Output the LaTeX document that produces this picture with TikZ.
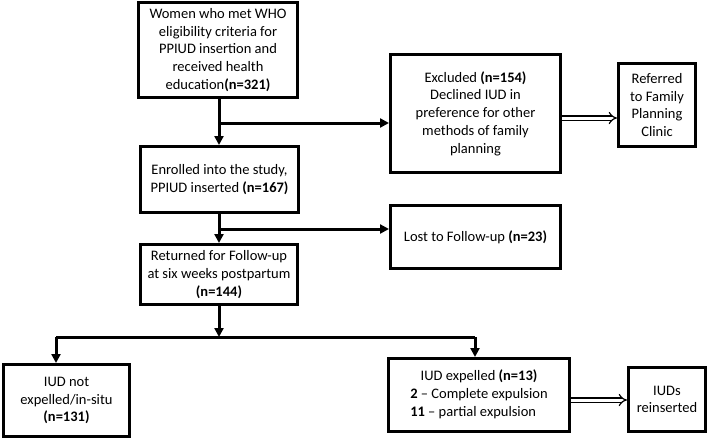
\documentclass[tikz,border=0pt]{standalone}
\usepackage{fontspec}
\setmainfont{Carlito}
\usetikzlibrary{arrows.meta}
\begin{document}
\begin{tikzpicture}[x=1pt,y=-1pt,
  box/.style={draw, line width=3pt, align=center, inner sep=2pt,
    font=\fontsize{14.5}{17.7}\selectfont},
  arr/.style={line width=3pt, -{Triangle[length=9pt,width=9pt]}},
  dbl/.style={double, double distance=3pt, line width=1.2pt, -{Implies[length=5pt]}}]
\useasboundingbox (0,0) rectangle (709,440);
\node[box, minimum width=159pt, minimum height=95pt] (b1) at (218,50)
  {Women who met WHO\\eligibility criteria for\\PPIUD insertion and\\received health\\education\textbf{(n=321)}};
\node[box, minimum width=158pt, minimum height=66pt] (b2) at (219.5,179.5)
  {Enrolled into the study,\\PPIUD inserted \textbf{(n=167)}};
\node[box, minimum width=157pt, minimum height=60pt] (b3) at (219,274.5)
  {Returned for Follow-up\\at six weeks postpartum\\\textbf{(n=144)}};
\node[box, minimum width=126pt, minimum height=72pt] (ns) at (66.5,400.5)
  {IUD not\\expelled/in-situ\\\textbf{(n=131)}};
\node[box, minimum width=170pt, minimum height=118pt] (ex) at (475.5,113.5)
  {Excluded \textbf{(n=154)}\\Declined IUD in\\preference for other\\methods of family\\planning};
\node[box, minimum width=77pt, minimum height=83pt] (rf) at (657,105)
  {Referred\\to Family\\Planning\\Clinic};
\node[box, minimum width=170pt, minimum height=63pt] (lo) at (475.5,237)
  {Lost to Follow-up \textbf{(n=23)}};
\node[box, minimum width=181pt, minimum height=73pt] (ep) at (479,395)
  {\begin{tabular}{@{}l@{}}\multicolumn{1}{@{}c@{}}{IUD expelled \textbf{(n=13)}}\\\textbf{2} -- Complete expulsion\\\textbf{11} -- partial expulsion\end{tabular}};
\node[box, minimum width=77pt, minimum height=64pt] (ri) at (667,399.5)
  {IUDs\\reinserted};
\coordinate (j1) at (219,123);
\coordinate (j2) at (219,229);
\coordinate (j3) at (219,337);
\coordinate (jl) at (56,337);
\coordinate (jr) at (475,337);
\draw[arr] (b1.south -| j1) -- (b2.north -| j1);
\draw[arr] (j1) -- (j1 -| ex.west);
\draw[arr] (b2.south -| j2) -- (b3.north -| j2);
\draw[arr] (j2) -- (j2 -| lo.west);
\draw[arr] (b3.south -| j3) -- (j3);
\draw[line width=3pt] (jl) -- (jr);
\draw[arr] (jl) -- (jl |- ns.north);
\draw[arr] (jr) -- (jr |- ep.north);
\draw[dbl] (ex.east |- 0,118) -- (rf.west |- 0,118);
\draw[dbl] (ep.east |- 0,400) -- (ri.west |- 0,400);
\end{tikzpicture}
\end{document}
